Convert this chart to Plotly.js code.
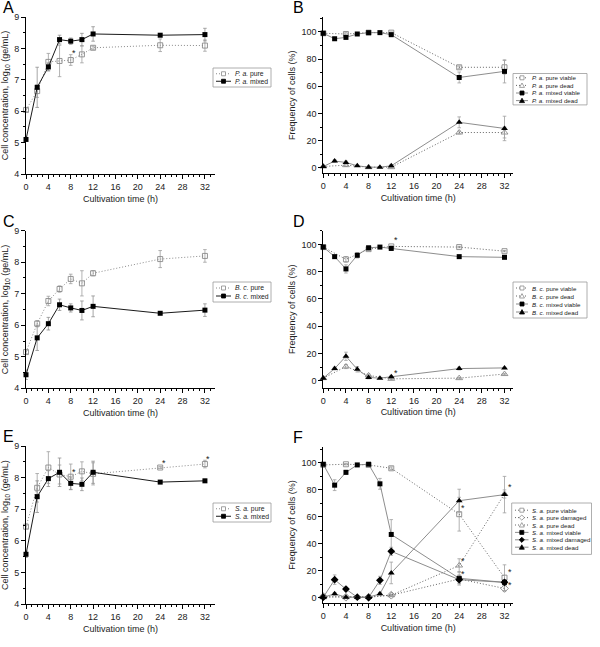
<!DOCTYPE html>
<html><head><meta charset="utf-8">
<script src="https://cdn.plot.ly/plotly-3.0.1.min.js"></script>
<style>html,body{margin:0;padding:0;background:#fff}#chart{width:600px;height:647px}</style>
</head><body><div id="chart"></div>
<script>
// ---------- data ----------
const time = [0, 2, 4, 6, 8, 10, 12, 24, 32];
const timePure = [0, 4, 8, 12, 24, 32];
const xTicks = [0, 4, 8, 12, 16, 20, 24, 28, 32];

// A: P. aeruginosa cell concentration
const paPure = [6.04, 6.64, 7.57, 7.6, 7.63, 7.81, 8.02, 8.1, 8.09];
const paPureErr = [0.05, 0.2, 0.27, 0.5, 0.17, 0.27, 0.05, 0.2, 0.18];
const paMixed = [5.1, 6.76, 7.41, 8.28, 8.23, 8.28, 8.46, 8.42, 8.44];
const paMixedErr = [0.05, 0.64, 0.13, 0.14, 0.1, 0.2, 0.23, 0.04, 0.2];

// B: P. aeruginosa frequencies
const paPureViable = [99, 98.5, 99.5, 99.5, 74, 74];
const paPureViableErr = [0.5, 1, 0.5, 0.5, 1, 5];
const paPureDead = [1, 2, 0.5, 0.5, 26, 26];
const paPureDeadErr = [0.5, 1, 0.5, 0.5, 1, 4];
const paMixedViable = [99, 95, 96, 98.5, 99.5, 99.5, 98, 66.5, 71];
const paMixedViableErr = [0.5, 1, 1, 0.5, 0.5, 0.5, 1, 4, 8.5];
const paMixedDead = [1, 5, 4, 1.5, 0.5, 0.5, 1.5, 33.5, 29];
const paMixedDeadErr = [0.5, 1, 1, 0.5, 0.5, 0.5, 1, 4, 9];

// C: B. cereus cell concentration
const bcPure = [5.15, 6.05, 6.77, 7.15, 7.47, 7.33, 7.65, 8.1, 8.2];
const bcPureErr = [0.05, 0.1, 0.15, 0.1, 0.15, 0.4, 0.08, 0.27, 0.2];
const bcMixed = [4.43, 5.6, 6.05, 6.65, 6.55, 6.47, 6.6, 6.38, 6.48];
const bcMixedErr = [0.15, 0.4, 0.2, 0.18, 0.13, 0.3, 0.33, 0.03, 0.2];

// D: B. cereus frequencies
const bcPureViable = [98, 89, 96.5, 98.5, 98, 95];
const bcPureViableErr = [0.5, 2, 1, 0.5, 0.5, 0.5];
const bcPureDead = [2, 10.5, 4, 1.5, 2, 5];
const bcPureDeadErr = [0.5, 1.5, 1, 0.5, 0.5, 0.5];
const bcMixedViable = [98, 91, 82, 92, 97.5, 98, 97, 91, 90.5];
const bcMixedViableErr = [0.5, 1, 3, 2, 1, 0.5, 1, 1, 0.5];
const bcMixedDead = [2, 9, 18, 8.5, 2.5, 2, 3, 9, 9.5];
const bcMixedDeadErr = [0.5, 1, 3, 2, 1, 0.5, 1, 1, 0.5];

// E: S. aureus cell concentration
const saPure = [6.45, 7.68, 8.32, 8.1, 8.03, 8.2, 8.12, 8.32, 8.43];
const saPureErr = [0.05, 0.45, 0.5, 0.3, 0.4, 0.3, 0.35, 0.03, 0.12];
const saMixed = [5.58, 7.4, 7.97, 8.17, 7.82, 7.79, 8.17, 7.86, 7.9];
const saMixedErr = [0.1, 0.5, 0.25, 0.45, 0.2, 0.2, 0.35, 0.05, 0.05];

// F: S. aureus frequencies
const saPureViable = [98.5, 99, 98.5, 96, 62, 15];
const saPureViableErr = [0.5, 0.5, 0.5, 1, 12.5, 9.5];
const saPureDamaged = [1, 0.5, 0.5, 2, 14, 7];
const saPureDamagedErr = [0, 0, 0, 0.5, 3, 2];
const saPureDead = [0.5, 0.5, 1, 2, 24, 77];
const saPureDeadErr = [0, 0, 0, 0.5, 5, 3];
const saMixedViable = [99, 83.5, 93, 98.5, 99, 84.5, 47, 14.5, 11.5];
const saMixedViableErr = [0.5, 4, 1.5, 0.5, 0.5, 4, 11, 5, 2];
const saMixedDamaged = [0.5, 13.5, 6.5, 0.5, 0.3, 13, 34.5, 13.5, 11.5];
const saMixedDamagedErr = [0.5, 3.5, 1.5, 0.5, 0.3, 3, 3, 3, 2];
const saMixedDead = [0.5, 3, 0.5, 0.5, 0.5, 3, 18.5, 72, 76.5];
const saMixedDeadErr = [0.5, 1, 0.5, 0.5, 0.5, 1, 8, 8.5, 13.5];

// significance stars [x, y]
const starsA = [[8.6, 7.93]];
const starsB = [];
const starsC = [];
const starsD = [[12.8, 104.5], [12.8, 7]];
const starsE = [[8.6, 8.24], [24.6, 8.53], [32.6, 8.64]];
const starsF = [[24.7, 68], [24.7, 29], [24.7, 19.3], [32.9, 84], [32.9, 20.5], [32.9, 11.4]];

// ---------- styles ----------
const FONT = 'Liberation Sans, Arial, sans-serif';
const W = 600, H = 647;
const DOT = '1px,2px';
function pureL(sym) { return {lc: '#8a8a8a', lw: 1, dash: DOT, sym: sym, ms: 5, mc: '#8a8a8a', ec: '#a0a0a0'}; }
function mixL(sym) { return {lc: '#1a1a1a', lw: 1, dash: 'solid', sym: sym, ms: 5, mc: '#000', ec: '#909090'}; }
function pureR(sym) { return {lc: '#555', lw: 0.9, dash: DOT, sym: sym, ms: 5, mc: '#8a8a8a', ec: '#a0a0a0'}; }
function mixR(sym) { return {lc: '#808080', lw: 0.9, dash: 'solid', sym: sym, ms: 5, mc: '#000', ec: '#a0a0a0'}; }

const panels = [
  {letter: 'A', xd: [26, 215], yd: [17, 174], xr: [0, 33.8], yr: [4, 9], ydt: 1, ymin: 0.5, left: true, stars: starsA,
   leg: {x0: 213, x1: 271, yTop: 68, pad: 2, rowH: 7.5, l0: 216, l1: 231, mX: 223.5, tX: 233, fs: 6.8},
   series: [
     {name: '<i>P. a.</i> pure', x: time, y: paPure, e: paPureErr, st: pureL('square-open')},
     {name: '<i>P. a.</i> mixed', x: time, y: paMixed, e: paMixedErr, st: mixL('square')}]},
  {letter: 'B', xd: [323.3, 513], yd: [17, 173.3], xr: [0, 33.5], yr: [-4, 111], ydt: 20, ymin: 10, left: false, stars: starsB,
   leg: {x0: 513, x1: 587, yTop: 73.5, pad: 0.5, rowH: 7.6, l0: 516, l1: 528, mX: 522, tX: 529.5, fs: 6.2},
   series: [
     {name: '<i>P. a.</i> pure viable', x: timePure, y: paPureViable, e: paPureViableErr, st: pureR('square-open')},
     {name: '<i>P. a.</i> pure dead', x: timePure, y: paPureDead, e: paPureDeadErr, st: pureR('triangle-up-open')},
     {name: '<i>P. a.</i> mixed viable', x: time, y: paMixedViable, e: paMixedViableErr, st: mixR('square')},
     {name: '<i>P. a.</i> mixed dead', x: time, y: paMixedDead, e: paMixedDeadErr, st: mixR('triangle-up')}]},
  {letter: 'C', xd: [26, 215], yd: [230.7, 388.3], xr: [0, 33.8], yr: [4, 9], ydt: 1, ymin: 0.5, left: true, stars: starsC,
   leg: {x0: 213, x1: 271, yTop: 282, pad: 2, rowH: 8, l0: 216, l1: 231, mX: 223.5, tX: 233, fs: 6.8},
   series: [
     {name: '<i>B. c.</i> pure', x: time, y: bcPure, e: bcPureErr, st: pureL('square-open')},
     {name: '<i>B. c.</i> mixed', x: time, y: bcMixed, e: bcMixedErr, st: mixL('square')}]},
  {letter: 'D', xd: [323.3, 513], yd: [230.7, 387.7], xr: [0, 33.5], yr: [-5, 110], ydt: 20, ymin: 10, left: false, stars: starsD,
   leg: {x0: 513, x1: 587, yTop: 282, pad: 2, rowH: 8, l0: 516, l1: 528, mX: 522, tX: 529.5, fs: 6.2},
   series: [
     {name: '<i>B. c.</i> pure viable', x: timePure, y: bcPureViable, e: bcPureViableErr, st: pureR('square-open')},
     {name: '<i>B. c.</i> pure dead', x: timePure, y: bcPureDead, e: bcPureDeadErr, st: pureR('triangle-up-open')},
     {name: '<i>B. c.</i> mixed viable', x: time, y: bcMixedViable, e: bcMixedViableErr, st: mixR('square')},
     {name: '<i>B. c.</i> mixed dead', x: time, y: bcMixedDead, e: bcMixedDeadErr, st: mixR('triangle-up')}]},
  {letter: 'E', xd: [26, 215], yd: [446, 604.3], xr: [0, 33.8], yr: [4, 9], ydt: 1, ymin: 0.5, left: true, stars: starsE,
   leg: {x0: 213, x1: 271, yTop: 503, pad: 2, rowH: 7.5, l0: 216, l1: 231, mX: 223.5, tX: 233, fs: 6.8},
   series: [
     {name: '<i>S. a.</i> pure', x: time, y: saPure, e: saPureErr, st: pureL('square-open')},
     {name: '<i>S. a.</i> mixed', x: time, y: saMixed, e: saMixedErr, st: mixL('square')}]},
  {letter: 'F', xd: [323.3, 513], yd: [446.7, 603.3], xr: [0, 33.5], yr: [-4, 112], ydt: 20, ymin: 10, left: false, stars: starsF,
   leg: {x0: 511.7, x1: 591.5, yTop: 503, pad: 3.5, rowH: 7.4, l0: 515, l1: 528.5, mX: 521.8, tX: 530, fs: 6.2},
   series: [
     {name: '<i>S. a.</i> pure viable', x: timePure, y: saPureViable, e: saPureViableErr, st: pureR('square-open')},
     {name: '<i>S. a.</i> pure damaged', x: timePure, y: saPureDamaged, e: saPureDamagedErr, st: pureR('diamond-open')},
     {name: '<i>S. a.</i> pure dead', x: timePure, y: saPureDead, e: saPureDeadErr, st: pureR('triangle-up-open')},
     {name: '<i>S. a.</i> mixed viable', x: time, y: saMixedViable, e: saMixedViableErr, st: mixR('square')},
     {name: '<i>S. a.</i> mixed damaged', x: time, y: saMixedDamaged, e: saMixedDamagedErr, st: mixR('diamond')},
     {name: '<i>S. a.</i> mixed dead', x: time, y: saMixedDead, e: saMixedDeadErr, st: mixR('triangle-up')}]}
];

// ---------- build ----------
const px = p => p / W;
const py = p => 1 - p / H;
const traces = [];
const shapes = [];
const annotations = [];
const layout = {
  width: W, height: H, margin: {l: 0, r: 0, t: 0, b: 0},
  paper_bgcolor: '#fff', plot_bgcolor: '#fff', showlegend: false,
  font: {family: FONT, size: 9, color: '#222'}
};

panels.forEach((p, i) => {
  const n = i + 1;
  const sfx = n === 1 ? '' : String(n);
  const axCommon = {
    showgrid: false, zeroline: false, showline: true, linecolor: '#000', linewidth: 1,
    ticks: 'outside', ticklen: 4, tickwidth: 1, tickcolor: '#000', mirror: false,
    tickfont: {family: FONT, size: 9, color: '#222'}, fixedrange: true
  };
  layout['xaxis' + sfx] = Object.assign({}, axCommon, {
    domain: [px(p.xd[0]), px(p.xd[1])], range: p.xr, anchor: 'y' + sfx,
    tickmode: 'array', tickvals: xTicks,
    minor: {dtick: 1, ticklen: 2, tickcolor: '#000', ticks: 'outside'},
    title: {text: 'Cultivation time (h)', font: {family: FONT, size: 9, color: '#222'}, standoff: 4}
  });
  layout['yaxis' + sfx] = Object.assign({}, axCommon, {
    domain: [py(p.yd[1]), py(p.yd[0])], range: p.yr, anchor: 'x' + sfx,
    dtick: p.ydt, tick0: 0,
    minor: {dtick: p.ymin, ticklen: 2, tickcolor: '#000', ticks: 'outside'},
    title: {text: p.left ? 'Cell concentration, log<sub>10</sub> (ge/mL)' : 'Frequency of cells (%)',
            font: {family: FONT, size: 9, color: '#222'}, standoff: 4}
  });

  p.series.forEach(s => {
    const st = s.st;
    const open = st.sym.indexOf('open') >= 0;
    traces.push({
      type: 'scatter', mode: 'lines+markers', name: s.name, x: s.x, y: s.y,
      xaxis: 'x' + sfx, yaxis: 'y' + sfx, cliponaxis: false,
      line: {color: st.lc, width: st.lw, dash: st.dash},
      marker: {symbol: st.sym, size: st.sym.indexOf('square') >= 0 ? st.ms : st.ms + 1,
               color: st.mc, line: {color: st.mc, width: open ? 0.9 : 0}},
      error_y: {type: 'data', array: s.e, visible: true, color: st.ec, thickness: 0.8, width: 1.8}
    });
  });

  // stars
  p.stars.forEach(sv => {
    annotations.push({xref: 'x' + sfx, yref: 'y' + sfx, x: sv[0], y: sv[1], text: '*', showarrow: false,
      font: {family: FONT, size: 9, color: '#222'}, yshift: -2});
  });

  // panel letter
  annotations.push({xref: 'paper', yref: 'paper', x: px(p.left ? 1 : 291), y: py(p.yd[0] - 20),
    xanchor: 'left', yanchor: 'top', text: p.letter, showarrow: false,
    font: {family: FONT, size: 16, color: '#000'}});

  // compact legend, built from the series definitions
  const L = p.leg;
  const nItems = p.series.length;
  const yBot = L.yTop + 2 * L.pad + nItems * L.rowH;
  shapes.push({type: 'rect', xref: 'paper', yref: 'paper', x0: px(L.x0), x1: px(L.x1), y0: py(L.yTop), y1: py(yBot),
    line: {color: '#9a9a9a', width: 0.8}, fillcolor: '#fff', layer: 'above'});
  p.series.forEach((s, k) => {
    const st = s.st;
    const cy = L.yTop + L.pad + L.rowH * (k + 0.5);
    shapes.push({type: 'line', xref: 'paper', yref: 'paper', x0: px(L.l0), x1: px(L.l1), y0: py(cy), y1: py(cy),
      line: {color: st.lc, width: st.lw, dash: st.dash}, layer: 'above'});
    const open = st.sym.indexOf('open') >= 0;
    const fill = open ? '#fff' : st.mc;
    const r = 2;
    let path;
    if (st.sym.indexOf('square') === 0) {
      path = `M${px(L.mX - r)},${py(cy - r)} L${px(L.mX + r)},${py(cy - r)} L${px(L.mX + r)},${py(cy + r)} L${px(L.mX - r)},${py(cy + r)} Z`;
    } else if (st.sym.indexOf('triangle') === 0) {
      path = `M${px(L.mX)},${py(cy - 2.4)} L${px(L.mX + 2.5)},${py(cy + 2)} L${px(L.mX - 2.5)},${py(cy + 2)} Z`;
    } else {
      path = `M${px(L.mX)},${py(cy - 2.6)} L${px(L.mX + 2.6)},${py(cy)} L${px(L.mX)},${py(cy + 2.6)} L${px(L.mX - 2.6)},${py(cy)} Z`;
    }
    shapes.push({type: 'path', xref: 'paper', yref: 'paper', path: path,
      line: {color: st.mc, width: 0.8}, fillcolor: fill, layer: 'above'});
    annotations.push({xref: 'paper', yref: 'paper', x: px(L.tX), y: py(cy), xanchor: 'left', yanchor: 'middle',
      text: s.name, showarrow: false, font: {family: FONT, size: L.fs, color: '#222'}});
  });
});

layout.shapes = shapes;
layout.annotations = annotations;
Plotly.newPlot('chart', traces, layout, {displayModeBar: false, staticPlot: true});
</script>
</body></html>
